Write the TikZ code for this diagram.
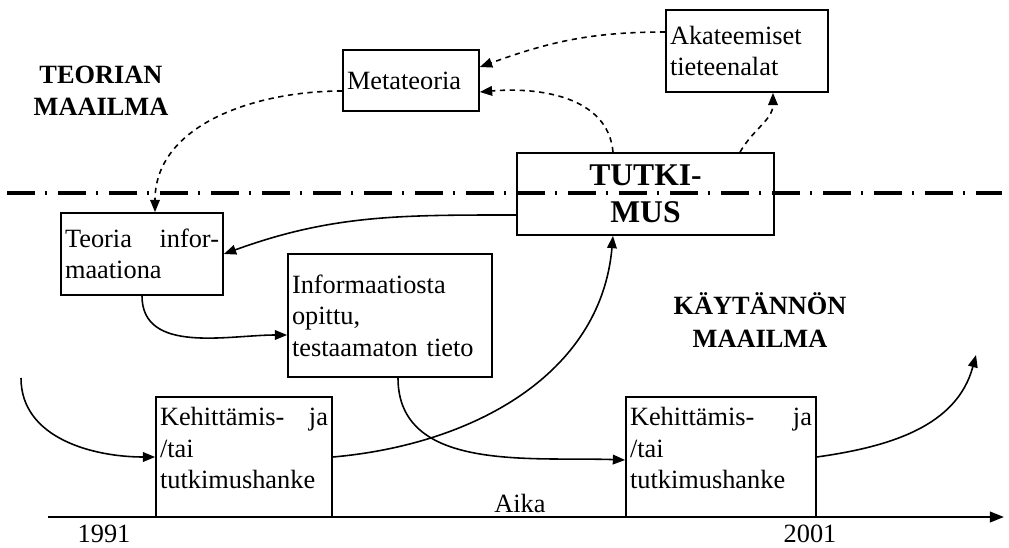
\documentclass[tikz,border=0pt]{standalone}
\usepackage{fontspec}
\setmainfont{Liberation Serif}
\usetikzlibrary{arrows.meta}

\tikzset{
  box/.style={draw, line width=1pt, inner sep=0.08cm, font=\fontsize{15}{18}\selectfont},
  title/.style={align=center, inner sep=0pt, font=\fontsize{15}{18.5}\selectfont\bfseries},
  lbl/.style={inner sep=0pt, font=\fontsize{15}{18}\selectfont},
  flow/.style={line width=0.9pt, -{Triangle[length=7pt,width=5.5pt]}},
  link/.style={flow, dash pattern=on 3pt off 2.6pt},
  border/.style={line width=1.8pt, dash pattern=on 0.56cm off 0.2cm on 0.05cm off 0.21cm},
  axis/.style={line width=1.2pt, -{Triangle[length=8pt,width=6pt]}}
}

\begin{document}
\begin{tikzpicture}[x=0.02cm, y=-0.02cm]
\useasboundingbox (0,0) rectangle (1009,548);
% the two worlds
\coordinate (dl0) at (7,193);
\coordinate (dl1) at (1002,193);
\draw[border] (dl0) -- (dl1);
\node[title] (teor) at (101,91) {TEORIAN\\MAAILMA};
\node[title] (kayt) at (760,320) {KÄYTÄNNÖN\\MAAILMA};

% boxes
\node[box, text width=2.56cm, minimum height=1.22cm, align=left] (meta) at (411,80.5) {Metateoria};
\node[box, text width=3.08cm, minimum height=1.64cm, align=left] (akat) at (747,51) {Akateemiset\\tieteenalat};
\node[box, text width=4.98cm, minimum height=1.64cm, align=center, font=\fontsize{18}{21}\selectfont\bfseries] (tutk) at (645.5,194) {TUTKI-\\MUS};
\node[box, text width=3.08cm, minimum height=1.64cm, align=justify] (teoria) at (142,254) {Teoria\hfill infor-\\maationa};
\node[box, text width=3.92cm, minimum height=2.46cm, align=left] (info) at (390,315.5) {Informaatiosta\\opittu,\\testaamaton tieto};
\node[box, text width=3.36cm, minimum height=2.4cm, align=justify] (keh1) at (244,457) {Kehittämis-\hfill ja\\/tai\\tutkimushanke\\[-8pt]\mbox{}};
\node[box, text width=3.64cm, minimum height=2.4cm, align=justify] (keh2) at (721,457) {Kehittämis-\hfill ja\\/tai\\tutkimushanke\\[-8pt]\mbox{}};

% time axis
\coordinate (ax0) at (48,517);
\coordinate (ax1) at (1004,517);
\draw[axis] (ax0) -- (ax1);
\node[lbl] (y1991) at (104,534) {1991};
\node[lbl] (aika) at (520,503) {Aika};
\node[lbl] (y2001) at (810,534) {2001};

% connectors
\coordinate (start) at (21,378);
\coordinate (end) at (976,355);
\draw[link] ([yshift=-0.21cm]meta.west) to[out=180, in=90] ([xshift=0.26cm]teoria.north);
\draw[link] ([yshift=0.38cm]akat.west) to[out=180, in=20] ([yshift=0.27cm]meta.east);
\draw[link] ([xshift=-0.65cm]tutk.north) to[out=95, in=5] ([yshift=-0.23cm]meta.east);
\draw[link] ([xshift=1.89cm]tutk.north) to[out=60, in=-90] ([xshift=0.52cm]akat.south);
\draw[flow] ([yshift=-0.42cm]tutk.west) to[out=180, in=20] (teoria.east);
\draw[flow] (teoria.south) to[out=-90, in=180] ([yshift=-0.39cm]info.west);
\draw[flow] (start) to[out=-90, in=180] (keh1.west);
\draw[flow] (keh1.east) to[out=5, in=-95] ([xshift=-0.65cm]tutk.south);
\draw[flow] ([xshift=0.16cm]info.south) to[out=-90, in=178] ([yshift=-0.06cm]keh2.west);
\draw[flow] (keh2.east) to[out=8, in=-105] (end);
\end{tikzpicture}
\end{document}
